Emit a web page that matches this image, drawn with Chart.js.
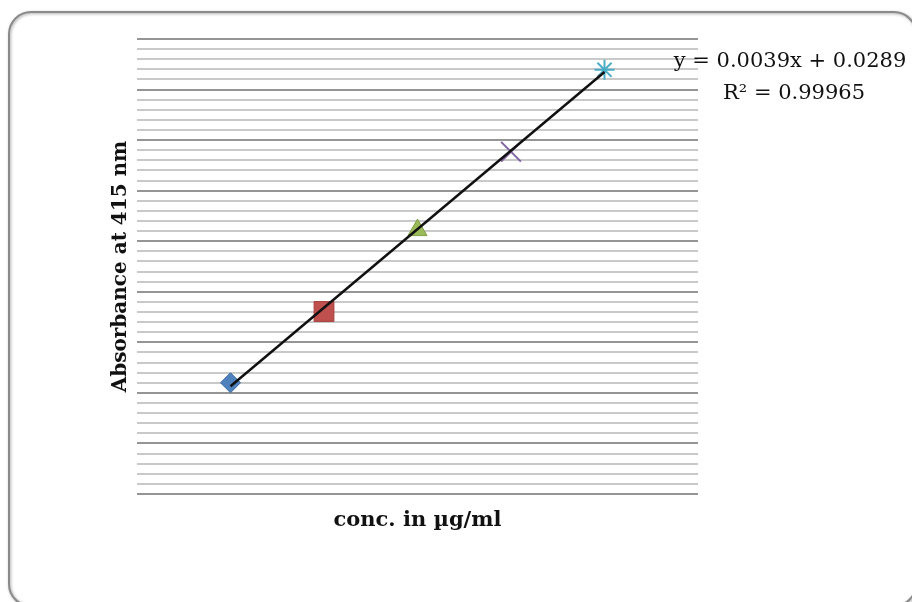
<!DOCTYPE html>
<html>
<head>
<meta charset="utf-8">
<script src="https://cdn.jsdelivr.net/npm/chart.js@4"></script>
<style>
  body { margin: 0; background: #fff; }
  canvas { display: block; }
</style>
</head>
<body>
<canvas id="calChart" width="912" height="602"></canvas>
<script>
// standard points (conc. in ug/ml vs absorbance)
const conc = [50, 90, 130, 170, 210];
const absorbance = [0.22, 0.361, 0.522, 0.677, 0.839];

const markerStyles = ["rectRot", "rect", "triangle", "crossRot", "star"];
const markerColors = ["#4F81BD", "#C0504D", "#9BBB59", "#8064A2", "#4BACC6"];

const equationText = "y = 0.0039x + 0.0289";
const r2Text = "R\u00B2 = 0.99965";

// linear trendline through the standards (least squares, like the spreadsheet does)
function fitLine(xs, ys) {
    let n = xs.length;
    let mx = xs.reduce((a, b) => a + b, 0) / n;
    let my = ys.reduce((a, b) => a + b, 0) / n;
    let sxy = 0, sxx = 0;
    for (let i = 0; i < n; i++) {
        sxy += (xs[i] - mx) * (ys[i] - my);
        sxx += (xs[i] - mx) * (xs[i] - mx);
    }
    let m = sxy / sxx;
    return { m: m, b: my - m * mx };
}

const fit = fitLine(conc, absorbance);
const xFirst = conc[0], xLast = conc[conc.length - 1];
const trendPoints = [
    { x: xFirst, y: fit.m * xFirst + fit.b },
    { x: xLast, y: fit.m * xLast + fit.b }
];

const framePlugin = {
    id: "frame",
    beforeDraw(chart) {
        const ctx = chart.ctx;
        ctx.save();
        ctx.fillStyle = "#fff";
        ctx.fillRect(0, 0, chart.width, chart.height);
        ctx.shadowColor = "rgba(0,0,0,0.35)";
        ctx.shadowBlur = 3;
        ctx.shadowOffsetX = 1;
        ctx.shadowOffsetY = 1;
        ctx.strokeStyle = "#8a8a8a";
        ctx.lineWidth = 2;
        ctx.beginPath();
        ctx.roundRect(9, 12, 907, 594, 22);
        ctx.stroke();
        ctx.restore();
    },
    afterDraw(chart) {
        const ctx = chart.ctx;
        ctx.save();
        ctx.fillStyle = "#111";
        ctx.font = "21px 'DejaVu Serif'";
        ctx.textAlign = "center";
        ctx.textBaseline = "middle";
        ctx.fillText(equationText, 790, 62);
        ctx.fillText(r2Text, 794, 94);
        ctx.restore();
    }
};

new Chart(document.getElementById("calChart"), {
    type: "scatter",
    data: {
        datasets: [
            {
                label: "Linear (trend)",
                data: trendPoints,
                showLine: true,
                borderColor: "#111",
                borderWidth: 2.5,
                pointRadius: 0,
                fill: false
            },
            {
                label: "Standards",
                data: conc.map((c, i) => ({ x: c, y: absorbance[i] })),
                pointStyle: markerStyles,
                pointRadius: [10, 14, 11, 14, 10],
                backgroundColor: markerColors,
                borderColor: ["#3a6aa3", "#a33e3b", "#7e9e45", "#8064A2", "#4BACC6"],
                borderWidth: [1, 1, 1, 2, 2]
            }
        ]
    },
    options: {
        responsive: false,
        animation: false,
        layout: { padding: { left: 0, top: 39, right: 214, bottom: 0 } },
        plugins: {
            legend: { display: false },
            tooltip: { enabled: false }
        },
        scales: {
            x: {
                type: "linear",
                min: 10,
                max: 250,
                grid: { display: false },
                border: { display: false },
                ticks: { display: false },
                title: {
                    display: true,
                    text: "conc. in \u00B5g/ml",
                    color: "#111",
                    font: { family: "'DejaVu Serif'", size: 21, weight: "bold" },
                    padding: { top: 0, bottom: 69 }
                },
                afterFit(scale) { scale.height = 108; }
            },
            y: {
                type: "linear",
                min: 0,
                max: 0.9,
                ticks: { display: false, stepSize: 0.02 },
                border: { display: false },
                grid: {
                    drawTicks: false,
                    lineWidth: 2,
                    color: ctx => (Math.round(ctx.tick.value * 50) % 5 === 0 ? "#959595" : "#c9c9c9")
                },
                title: {
                    display: true,
                    text: "Absorbance at 415 nm",
                    color: "#111",
                    font: { family: "'DejaVu Serif'", size: 20, weight: "bold" },
                    padding: { top: 109, bottom: 0 }
                },
                afterFit(scale) { scale.width = 137; }
            }
        }
    },
    plugins: [framePlugin]
});
</script>
</body>
</html>
